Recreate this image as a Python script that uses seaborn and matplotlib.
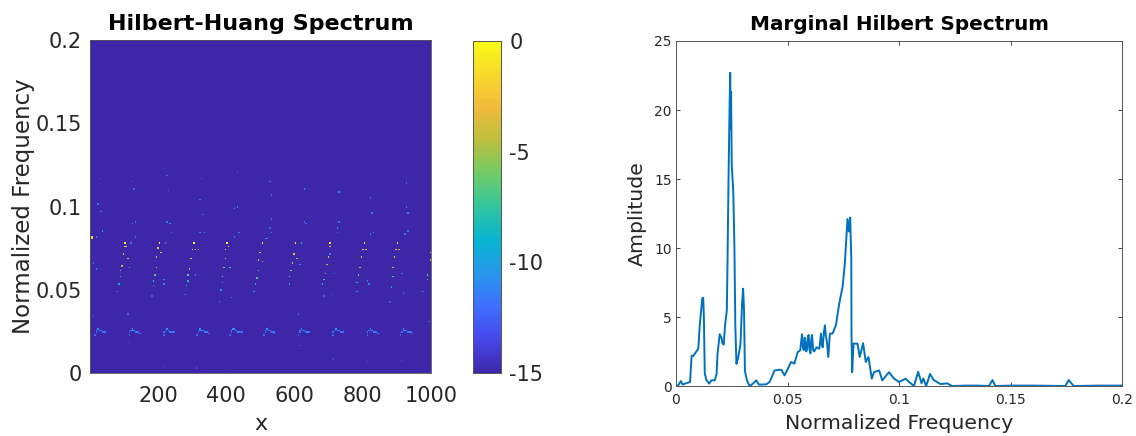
import numpy as np
import matplotlib
matplotlib.use("Agg")
import matplotlib.pyplot as plt
import seaborn as sns
from matplotlib.colors import LinearSegmentedColormap

# bright ridges in the spectrum (x, frequency, log amplitude)
ridge_x = [6, 9,
           106, 102, 108, 99, 111, 96, 118, 93, 89, 86, 82,
           204, 202, 209, 197, 194, 192, 189, 186,
           304, 299, 309, 319, 296, 292, 289, 286, 284,
           403, 399, 406, 397, 394, 411, 390, 387, 383,
           505, 499, 496, 507, 492, 489, 487, 482,
           603, 597, 609, 594, 591, 588, 584,
           703, 706, 700, 695, 691, 687, 683,
           804, 800, 810, 795, 792, 789, 785, 781,
           902, 897, 907, 893, 890, 887, 883,
           998, 996, 991, 988]
ridge_f = [.0818, .0806,
           .0778, .0758, .0758, .0713, .0687, .0647, .0637, .0613, .0579, .0539, .0493,
           .0778, .0752, .0727, .0699, .0639, .0587, .0553, .0527,
           .0778, .0742, .0742, .0742, .0687, .0627, .0587, .0553, .0523,
           .0778, .0746, .0758, .0687, .0639, .0637, .0579, .0543, .0503,
           .0778, .0727, .0679, .0667, .0613, .0573, .0539, .0493,
           .0778, .0713, .0687, .0659, .0613, .0579, .0539,
           .0778, .0758, .0699, .0653, .0603, .0563, .0539,
           .0778, .0742, .0742, .0699, .0639, .0587, .0543, .0493,
           .0778, .0742, .0742, .0699, .0639, .0583, .0519,
           .0727, .0679, .0587, .0559]
ridge_v = [-1.5, -2,
           -1, -1.5, -2, -3, -4, -4.5, -8, -6, -8, -9, -10,
           -.5, -2, -3, -3.5, -5, -6.5, -8, -9,
           -.5, -2, -3, -4, -3.5, -5, -6.5, -8, -9,
           -.5, -2, -2, -3.5, -5, -7, -7, -8.5, -10,
           -1, -3, -4, -5, -6, -7, -8.5, -10,
           -1, -3, -6, -4, -5.5, -7, -8.5,
           -1, -2, -3, -4.5, -6, -7.5, -9,
           -.5, -3, -4, -3.5, -5, -6.5, -8.5, -10,
           -.5, -3, -4, -3.5, -5, -7, -9,
           -4, -4, -7, -7]

# the low band near 0.025
band_x = [16, 19, 22, 25, 29, 33, 37, 41, 45, 49,
          115, 118, 121, 124, 128, 132, 136, 140, 144, 148,
          216, 219, 222, 225, 229, 233, 237, 241, 245, 249,
          315, 318, 321, 324, 328, 332, 336, 340, 344, 348,
          411, 414, 417, 420, 424, 428, 432, 436, 440, 444,
          511, 514, 517, 520, 524, 528, 532, 536, 540, 544,
          612, 615, 618, 621, 625, 629, 633, 637, 641, 645,
          712, 715, 718, 721, 725, 729, 733, 737, 741, 745,
          812, 815, 818, 821, 825, 829, 833, 837, 841, 845,
          912, 915, 918, 921, 925, 929, 933, 937, 941, 945]
band_f = [.0234, .0247, .0259, .0267, .0261, .0255, .0251, .0248, .0246, .0244,
          .0230, .0245, .0255, .0265, .0261, .0257, .0251, .0246, .0244, .0242,
          .0234, .0249, .0261, .0265, .0259, .0253, .0249, .0246, .0245, .0244,
          .0232, .0246, .0257, .0267, .0261, .0255, .0251, .0248, .0245, .0242,
          .0230, .0246, .0259, .0267, .0262, .0257, .0251, .0246, .0245, .0244,
          .0232, .0246, .0257, .0265, .0260, .0255, .0251, .0248, .0245, .0242,
          .0234, .0246, .0255, .0263, .0258, .0253, .0249, .0246, .0245, .0244,
          .0234, .0248, .0259, .0265, .0260, .0255, .0251, .0248, .0246, .0244,
          .0232, .0246, .0257, .0267, .0261, .0255, .0250, .0246, .0244, .0242,
          .0230, .0246, .0259, .0267, .0260, .0253, .0249, .0246, .0244, .0242]
band_v = [-12.5, -12, -11, -10.5, -11, -11, -11.5, -11.5, -12, -12,
          -12.5, -12, -11, -10.5, -11, -11, -11.5, -11.5, -12, -12,
          -12.5, -12, -11, -10.5, -11, -11, -11.5, -11.5, -12, -12,
          -12.5, -12, -11, -10.5, -11, -11, -11.5, -11.5, -12, -12,
          -12.5, -12, -11, -10.5, -11, -11, -11.5, -11.5, -12, -12,
          -12.5, -12, -11, -10.5, -11, -11, -11.5, -11.5, -12, -12,
          -12.5, -12, -11, -10.5, -11, -11, -11.5, -11.5, -12, -12,
          -12.5, -12, -11, -10.5, -11, -11, -11.5, -11.5, -12, -12,
          -12.5, -12, -11, -10.5, -11, -11, -11.5, -11.5, -12, -12,
          -12.5, -12, -11, -10.5, -11, -11, -11.5, -11.5, -12, -12]

# isolated faint dots
dots_x = [28, 128, 131, 228, 231, 328, 431, 529, 533, 628, 729, 824, 927,
          25, 32, 325, 333, 426, 433, 533, 529, 628, 636, 729, 724, 827, 831,
          927, 931, 128, 133, 228, 236, 238, 325, 338, 436, 426, 533, 521,
          724, 822, 934, 924, 38, 22, 136, 123, 221, 517, 11, 21, 13, 113,
          612, 516, 993, 116, 615, 714, 814, 915, 314, 216, 413, 617, 719,
          709, 685, 219, 216, 312, 416, 382, 182, 279, 812, 817, 915, 917,
          880, 978, 704, 621]
dots_f = [.1166, .1146, .1102, .1186, .1092, .1166, .1206, .1152, .1072, .1106, .1086, .1046, .1142,
          .1016, .0972, .1038, .0952, .0982, .0992, .0922, .0872, .0906, .0892, .0906, .0872, .0962, .0846,
          .0992, .0962, .0892, .0906, .0906, .0892, .0842, .0842, .0842, .0842, .0812, .0842, .0802,
          .0842, .0832, .0852, .0832, .0852, .0812, .0812, .0778, .0778, .0806, .0663, .0627, .0349, .0359,
          .0359, .0313, .0307, .0188, .0164, .0088, .0064, .0080, .0034, .0044, .0024, .0653, .0603,
          .0473, .0467, .0563, .0533, .0587, .0453, .0429, .0467, .0473, .0553, .0539, .0599, .0479,
          .0427, .0493, .0713, .0778]
dots_v = [-12.5, -12.5, -12.5, -12.5, -12.5, -12.5, -12.5, -12.5, -12.5, -11, -11, -12.5, -12.5,
          -11.5, -11.5, -11.5, -12.5, -11, -11, -12.5, -12.5, -12.5, -12.5, -12.5, -11.5, -11.5, -11.5,
          -11.5, -11.5, -11.5, -11.5, -11.5, -11.5, -11.5, -11.5, -11.5, -11.5, -11.5, -11.5, -11.5,
          -11.5, -11.5, -11.5, -11.5, -10.5, -11.5, -12.5, -11.5, -11.5, -11.5, -11.5, -11, -11.5, -12.5,
          -12.5, -13.5, -12.5, -13, -13.5, -14, -14, -14, -14, -14, -14, -11.5, -11.5,
          -12.5, -12.5, -11.5, -11.5, -11.5, -11.5, -13, -12.5, -12.5, -11, -11, -11.5, -12.5,
          -13, -12.5, -11.5, -10]

# marginal spectrum
spec_f = [0, .0010, .0022, .0030, .0040, .0063, .0070, .0077, .0100, .0107, .0118, .0122,
          .0125, .0129, .0137, .0149, .0159, .0174, .0182, .0186, .0196, .0204, .0208,
          .0214, .0220, .0228, .0231, .0235, .0240, .0243, .0246, .0247, .0250, .0257,
          .0262, .0266, .0271, .0278, .0289, .0296, .0301, .0305, .0309, .0318, .0330,
          .0345, .0360, .0372, .0405, .0420, .0442, .0472, .0487, .0516, .0531, .0546,
          .0557, .0565, .0569, .0573, .0577, .0580, .0584, .0588, .0592, .0595, .0599,
          .0603, .0607, .0610, .0615, .0620, .0630, .0643, .0650, .0654, .0658, .0663,
          .0668, .0672, .0676, .0683, .0690, .0702, .0717, .0732, .0747, .0757, .0769,
          .0775, .0781, .0786, .0787, .0790, .0796, .0814, .0824, .0839, .0851, .0863,
          .0878, .0888, .0911, .0925, .0955, .0978, .1000, .1030, .1045, .1067, .1086,
          .1101, .1109, .1122, .1139, .1156, .1186, .1216, .1238, .1300, .1350, .1403,
          .1419, .1432, .1500, .1600, .1746, .1761, .1783, .1900, .2000]
spec_a = [0, .05, .36, .10, .17, .29, 2.2, 2.17, 2.7, 4.5, 6.38, 6.38,
          5.0, .9, .41, .17, .41, .41, .89, 2.3, 3.75, 3.5, 3.1,
          3.0, 4.4, 5.5, 8.9, 14.4, 20.0, 22.7, 18.6, 21.3, 16.0, 14.0,
          10.0, 4.4, 1.6, 2.0, 3.0, 5.9, 7.05, 5.5, 1.1, .41, 0,
          .17, .41, .1, .12, .29, 1.13, 1.18, .77, 1.74, 1.62, 2.46,
          2.58, 3.74, 2.8, 2.6, 3.5, 3.3, 2.5, 2.7, 3.6, 3.7, 2.6,
          2.36, 3.4, 3.7, 2.6, 2.5, 2.8, 2.7, 3.8, 3.0, 2.8, 3.9,
          4.4, 3.6, 3.3, 2.1, 3.8, 3.8, 4.4, 5.96, 7.2, 8.85, 12.1,
          11.2, 12.2, 9.3, 3.8, 1.0, 3.07, 3.07, 2.1, 3.1, 1.74, 2.1,
          .53, 1.0, 1.13, .41, 1.0, .53, .29, .53, .29, 0, 1.03,
          .2, .55, 0, .87, .43, .14, .19, 0, .03, .03, 0,
          .43, 0, .03, .03, 0, .43, 0, .03, .03]

x_ticks = [200, 400, 600, 800, 1000]
f_ticks = [0, 0.05, 0.1, 0.15, 0.2]
f_labels = ["0", "0.05", "0.1", "0.15", "0.2"]
amp_ticks = [0, 5, 10, 15, 20, 25]
cbar_ticks = [-15, -10, -5, 0]

parula = LinearSegmentedColormap.from_list("parula", [
    (.2422, .1504, .6603), (.2803, .2782, .9221), (.2440, .4358, .9988),
    (.1540, .5902, .9218), (.0297, .7082, .8163), (.1938, .7758, .6251),
    (.4420, .7980, .4100), (.7300, .7500, .2400), (.9500, .7300, .2300),
    (.9700, .8500, .1700), (.9769, .9839, .0805)])

W, H = 1136, 436
text_c = "#262626"
edge_c = "#555555"

sns.set_theme(style="white")
plt.rcParams["font.family"] = ["DejaVu Sans"]
plt.rcParams["axes.unicode_minus"] = False

# grid of the spectrum
n_cols, n_rows = 228, 222
Z = np.full((n_rows, n_cols), -15.0)
for xs, fs, vs in [(dots_x, dots_f, dots_v), (band_x, band_f, band_v), (ridge_x, ridge_f, ridge_v)]:
    for a, b, c in zip(xs, fs, vs):
        col = min(int((a - 1) / 999 * n_cols), n_cols - 1)
        row = min(int(b / 0.2 * n_rows), n_rows - 1)
        Z[row, col] = c


def box(x0, y0, x1, y1):
    return [x0 / W, 1 - y1 / H, (x1 - x0) / W, (y1 - y0) / H]


fig = plt.figure(figsize=(W / 100, H / 100), dpi=100)
ax1 = fig.add_axes(box(90, 40, 431, 373))
cax = fig.add_axes(box(473, 41, 501, 373))
ax2 = fig.add_axes(box(676, 41, 1122, 386))

sns.heatmap(Z, ax=ax1, cbar_ax=cax, cmap=parula, vmin=-15, vmax=0,
            xticklabels=False, yticklabels=False, cbar_kws={"ticks": cbar_ticks})
ax1.invert_yaxis()
ax1.set_xticks([(t - 1) / 999 * n_cols for t in x_ticks])
ax1.set_xticklabels(x_ticks, rotation=0)
ax1.set_yticks([t / 0.2 * n_rows for t in f_ticks])
ax1.set_yticklabels(f_labels, rotation=0)
ax1.tick_params(axis="both", labelsize=15, colors=text_c, length=0, pad=6)
ax1.tick_params(axis="x", pad=9)
ax1.set_xlabel("x", fontsize=16, color=text_c, labelpad=6)
ax1.set_ylabel("Normalized Frequency", fontsize=16.5, color=text_c, labelpad=0)
ax1.set_title("Hilbert-Huang Spectrum", fontsize=16, fontweight="bold", color="black", pad=7)
for s in ax1.spines.values():
    s.set_visible(True)
    s.set_color(edge_c)
    s.set_linewidth(0.6)

cax.tick_params(labelsize=15, colors=text_c, length=0, pad=6)
for s in cax.spines.values():
    s.set_visible(True)
    s.set_color(edge_c)
    s.set_linewidth(0.6)

sns.lineplot(x=spec_f, y=spec_a, ax=ax2, color="#0072BD", linewidth=1.4, errorbar=None)
ax2.set_xlim(0, 0.2)
ax2.set_ylim(0, 25)
ax2.set_xticks(f_ticks)
ax2.set_xticklabels(f_labels)
ax2.set_yticks(amp_ticks)
ax2.tick_params(axis="both", direction="in", length=3, width=0.6, labelsize=10,
                colors=text_c, top=True, right=True, bottom=True, left=True, pad=3)
ax2.tick_params(axis="x", pad=5)
ax2.set_xlabel("Normalized Frequency", fontsize=14.7, color=text_c, labelpad=5)
ax2.set_ylabel("Amplitude", fontsize=14.7, color=text_c, labelpad=5)
ax2.set_title("Marginal Hilbert Spectrum", fontsize=14.4, fontweight="bold", color="black", pad=8)
for s in ax2.spines.values():
    s.set_color(edge_c)
    s.set_linewidth(0.7)

fig.savefig("out.png", dpi=100)
